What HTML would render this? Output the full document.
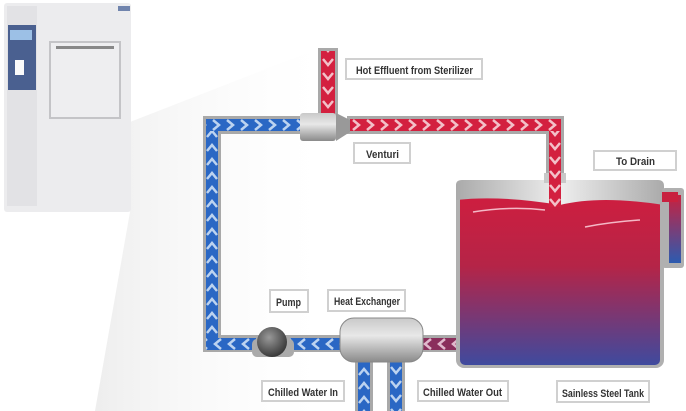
<!DOCTYPE html>
<html><head><meta charset="utf-8"><style>
html,body{margin:0;padding:0;background:#fff;}
svg{display:block}
text{font-family:"Liberation Sans",sans-serif;font-weight:bold;font-size:11px;fill:#333}
</style></head><body>
<svg width="686" height="411" viewBox="0 0 686 411" xmlns="http://www.w3.org/2000/svg">
<defs>
<linearGradient id="wedge" x1="0" y1="0" x2="1" y2="0">
<stop offset="0" stop-color="#e2e2e2"/><stop offset="1" stop-color="#fff" stop-opacity="0"/></linearGradient>
<linearGradient id="tank" x1="0" y1="0" x2="0" y2="1">
<stop offset="0" stop-color="#d21d3e"/><stop offset="0.45" stop-color="#b52447"/><stop offset="1" stop-color="#3f4a9e"/></linearGradient>
<linearGradient id="drain" x1="0" y1="0" x2="0" y2="1">
<stop offset="0" stop-color="#c8213f"/><stop offset="1" stop-color="#2c5bb0"/></linearGradient>
<linearGradient id="metal" x1="0" y1="0" x2="0" y2="1">
<stop offset="0" stop-color="#c9c9c9"/><stop offset="0.4" stop-color="#e8e8e8"/><stop offset="1" stop-color="#8a8a8a"/></linearGradient>
<linearGradient id="lid" x1="0" y1="0" x2="1" y2="0">
<stop offset="0" stop-color="#aaa"/><stop offset="0.5" stop-color="#eee"/><stop offset="1" stop-color="#aaa"/></linearGradient>
<radialGradient id="pump" cx="0.4" cy="0.35" r="0.7"><stop offset="0" stop-color="#999"/><stop offset="1" stop-color="#333"/></radialGradient>
<pattern id="bR" width="14" height="12" patternUnits="userSpaceOnUse" y="119"><rect width="14" height="12" fill="#2a67c4"/><path d="M3 1 L9 6 L3 11" stroke="#bcd3f0" stroke-width="2.5" fill="none"/></pattern>
<pattern id="bL" width="14" height="12" patternUnits="userSpaceOnUse" y="338"><rect width="14" height="12" fill="#2a67c4"/><path d="M11 1 L5 6 L11 11" stroke="#bcd3f0" stroke-width="2.5" fill="none"/></pattern>
<pattern id="bU" width="12" height="14" patternUnits="userSpaceOnUse" x="206"><rect width="12" height="14" fill="#2a67c4"/><path d="M1 11 L6 5 L11 11" stroke="#bcd3f0" stroke-width="2.5" fill="none"/></pattern>
<pattern id="bU2" width="12" height="14" patternUnits="userSpaceOnUse" x="358"><rect width="12" height="14" fill="#2a67c4"/><path d="M1 11 L6 5 L11 11" stroke="#bcd3f0" stroke-width="2.5" fill="none"/></pattern>
<pattern id="bD" width="12" height="14" patternUnits="userSpaceOnUse" x="390"><rect width="12" height="14" fill="#2a67c4"/><path d="M1 3 L6 9 L11 3" stroke="#bcd3f0" stroke-width="2.5" fill="none"/></pattern>
<pattern id="rR" width="14" height="12" patternUnits="userSpaceOnUse" y="119"><rect width="14" height="12" fill="#d3203f"/><path d="M3 1 L9 6 L3 11" stroke="#f3c0c8" stroke-width="2.5" fill="none"/></pattern>
<pattern id="rD" width="12" height="14" patternUnits="userSpaceOnUse" x="549"><rect width="12" height="14" fill="#d3203f"/><path d="M1 3 L6 9 L11 3" stroke="#f3c0c8" stroke-width="2.5" fill="none"/></pattern>
<pattern id="rD2" width="14" height="14" patternUnits="userSpaceOnUse" x="321"><rect width="14" height="14" fill="#d3203f"/><path d="M2 3 L7 9 L12 3" stroke="#f3c0c8" stroke-width="2.5" fill="none"/></pattern>
<pattern id="pL" width="14" height="12" patternUnits="userSpaceOnUse" y="338"><rect width="14" height="12" fill="#8a2e5c"/><path d="M11 1 L5 6 L11 11" stroke="#e0b8cc" stroke-width="2.5" fill="none"/></pattern>
</defs>
<polygon points="130,122 340,40 330,411 95,411 130,212" fill="url(#wedge)" opacity="0.6"/>
<rect x="4" y="3" width="127" height="209" rx="3" fill="#ececee"/>
<rect x="7" y="6" width="30" height="200" fill="#e2e2e5"/>
<rect x="8" y="25" width="28" height="65" fill="#4a6090"/>
<rect x="10" y="30" width="22" height="10" fill="#9cc0e6"/>
<rect x="15" y="60" width="9" height="15" fill="#fafafa"/>
<rect x="50" y="42" width="70" height="76" fill="#eeeef0" stroke="#c4c4c7" stroke-width="2"/>
<rect x="56" y="46" width="58" height="3" fill="#888"/>
<rect x="118" y="6" width="12" height="5" fill="#7084ad"/>
<g fill="#a9a9a9">
<rect x="203" y="116" width="104" height="18"/>
<rect x="203" y="116" width="18" height="236"/>
<rect x="203" y="335" width="255" height="17"/>
<rect x="347" y="116" width="216" height="18"/>
<rect x="546" y="116" width="18" height="70"/>
<rect x="318" y="48" width="20" height="72"/>
<rect x="355" y="355" width="18" height="60"/>
<rect x="387" y="355" width="18" height="60"/>
</g>
<rect x="206" y="119" width="98" height="12" fill="url(#bR)"/>
<rect x="206" y="131" width="12" height="207" fill="url(#bU)"/>
<rect x="206" y="338" width="50" height="12" fill="url(#bL)"/>
<rect x="290" y="338" width="55" height="12" fill="url(#bL)"/>
<rect x="420" y="338" width="38" height="12" fill="url(#pL)"/>
<rect x="350" y="119" width="211" height="12" fill="url(#rR)"/>
<rect x="549" y="131" width="12" height="75" fill="url(#rD)"/>
<rect x="321" y="51" width="14" height="64" fill="url(#rD2)"/>
<rect x="358" y="360" width="12" height="55" fill="url(#bU2)"/>
<rect x="390" y="360" width="12" height="55" fill="url(#bD)"/>
<rect x="300" y="113" width="36" height="28" rx="3" fill="url(#metal)"/>
<polygon points="336,113 350,120 350,132 336,141" fill="#999"/>
<rect x="456" y="180" width="208" height="188" rx="8" fill="#b0b0b0"/>
<rect x="460" y="185" width="200" height="180" rx="5" fill="url(#tank)"/>
<path d="M456,185 Q456,180 462,180 L658,180 Q664,180 664,186 L664,205 Q600,195 560,205 Q500,195 456,200 Z" fill="url(#lid)"/>
<rect x="544" y="173" width="22" height="10" fill="#c8c8c8"/>
<rect x="549" y="173" width="12" height="34" fill="url(#rD)"/>
<path d="M473 212 Q510 206 545 210" stroke="#f4b8c6" stroke-width="1.5" fill="none"/>
<path d="M585 227 Q610 222 640 220" stroke="#f4b8c6" stroke-width="1.5" fill="none"/>
<rect x="662" y="188" width="22" height="80" rx="3" fill="#b0b0b0"/>
<rect x="669" y="195" width="12" height="68" fill="url(#drain)"/>
<rect x="662" y="192" width="16" height="10" fill="#c8213f"/>
<rect x="252" y="339" width="42" height="18" rx="5" fill="#aaa"/>
<circle cx="272" cy="342" r="15" fill="url(#pump)"/>
<rect x="340" y="318" width="83" height="44" rx="14" fill="url(#metal)" stroke="#888"/>
<g fill="#fff" stroke="#d0d0d0" stroke-width="2">
<rect x="346" y="59" width="136" height="20"/>
<rect x="354" y="143" width="56" height="20"/>
<rect x="594" y="151" width="82" height="19"/>
<rect x="270" y="290" width="38" height="22"/>
<rect x="328" y="290" width="77" height="21"/>
<rect x="262" y="381" width="82" height="20"/>
<rect x="418" y="381" width="90" height="20"/>
<rect x="557" y="381" width="92" height="21"/>
</g>
<text x="356" y="74" textLength="117" lengthAdjust="spacingAndGlyphs">Hot Effluent from Sterilizer</text>
<text x="366" y="158" textLength="33" lengthAdjust="spacingAndGlyphs">Venturi</text>
<text x="616" y="165" textLength="39" lengthAdjust="spacingAndGlyphs">To Drain</text>
<text x="276" y="306" textLength="25" lengthAdjust="spacingAndGlyphs">Pump</text>
<text x="334" y="305" textLength="66" lengthAdjust="spacingAndGlyphs">Heat Exchanger</text>
<text x="268" y="396" textLength="70" lengthAdjust="spacingAndGlyphs">Chilled Water In</text>
<text x="423" y="396" textLength="79" lengthAdjust="spacingAndGlyphs">Chilled Water Out</text>
<text x="562" y="397" textLength="82" lengthAdjust="spacingAndGlyphs">Sainless Steel Tank</text>
</svg>
</body></html>
